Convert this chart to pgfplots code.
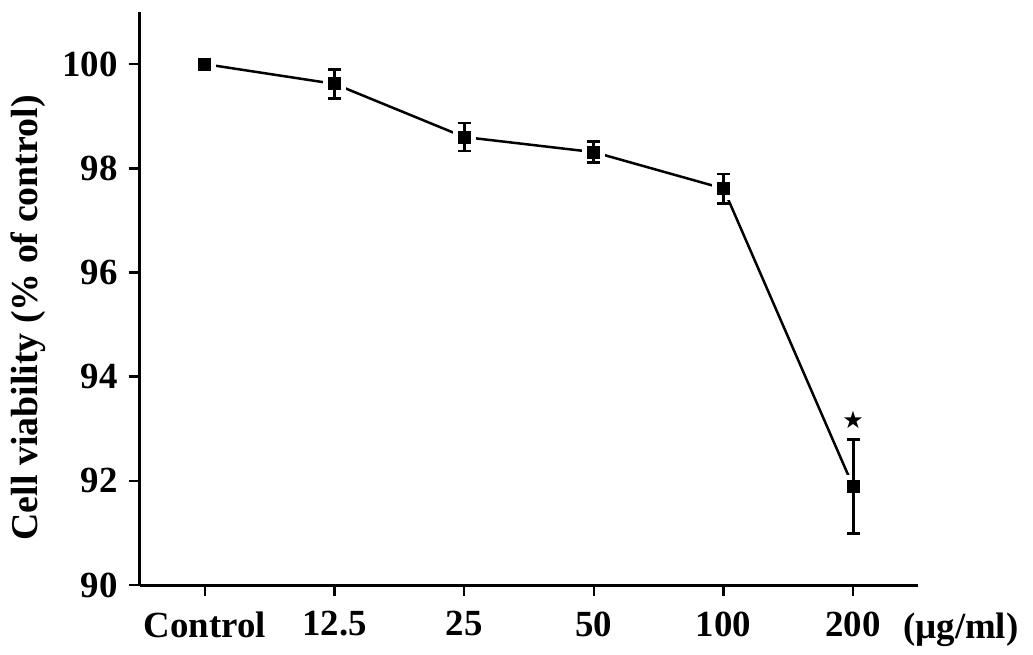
\documentclass[border=0pt]{standalone}
\usepackage{fontspec}
\setmainfont{Liberation Serif}
\newfontfamily\symfont{DejaVu Sans}
\usepackage{pgfplots}
\pgfplotsset{compat=1.18}
\begin{document}
\begin{tikzpicture}
\useasboundingbox (-140bp,-70bp) rectangle (893bp,585bp);
\begin{axis}[
  at={(0,0)}, anchor=south west,
  scale only axis, width=778bp, height=573bp,
  xmin=-0.5, xmax=5.5, ymin=90, ymax=101,
  axis x line*=bottom, axis y line*=left,
  axis line style={line width=3bp, -},
  xtick={0,...,5}, xticklabels={Control,12.5,25,50,100,200},
  ytick={90,92,...,100},
  tick align=outside, major tick length=11bp,
  tick style={line width=2.5bp, black},
  minor tick num=0,
  /pgf/number format/assume math mode=true,
  ticklabel style={font=\fontsize{37}{40}\selectfont\bfseries},
  xticklabel style={yshift=-12bp},
  yticklabel style={xshift=-8bp},
  ylabel={Cell viability (\% of control)},
  ylabel style={at={(rel axis cs:-0.144,0.466)}, anchor=center, font=\fontsize{38}{40}\selectfont\bfseries},
  clip=false, clip mode=individual,
]
\addplot[black, line width=2.5bp, no marks] coordinates {
  (0,100) (1,99.62) (2,98.60) (3,98.31) (4,97.61) (5,91.89)
};
\addplot[only marks, mark=square*, mark size=9bp,
  mark options={fill=black, draw=white, line width=5bp}] coordinates {
  (0,100) (1,99.62) (2,98.60) (3,98.31) (4,97.61) (5,91.89)
};
\addplot[black, only marks, mark=none,
  error bars/.cd, y dir=both, y explicit,
  error bar style={line width=2.8bp, black},
  error mark options={rotate=90, mark size=6.5bp, line width=2.8bp, black}] coordinates {
  (1,99.62) +- (0,0.28)
  (2,98.60) +- (0,0.27)
  (3,98.31) +- (0,0.20)
  (4,97.61) +- (0,0.28)
  (5,91.89) +- (0,0.90)
};
\node[font=\symfont\fontsize{24}{24}\selectfont] at (axis cs:5,93.17) {★};
\node[anchor=base, font=\fontsize{37}{40}\selectfont\bfseries] at (axis cs:5.83,88.98) {(µg/ml)};
\end{axis}
\end{tikzpicture}
\end{document}
